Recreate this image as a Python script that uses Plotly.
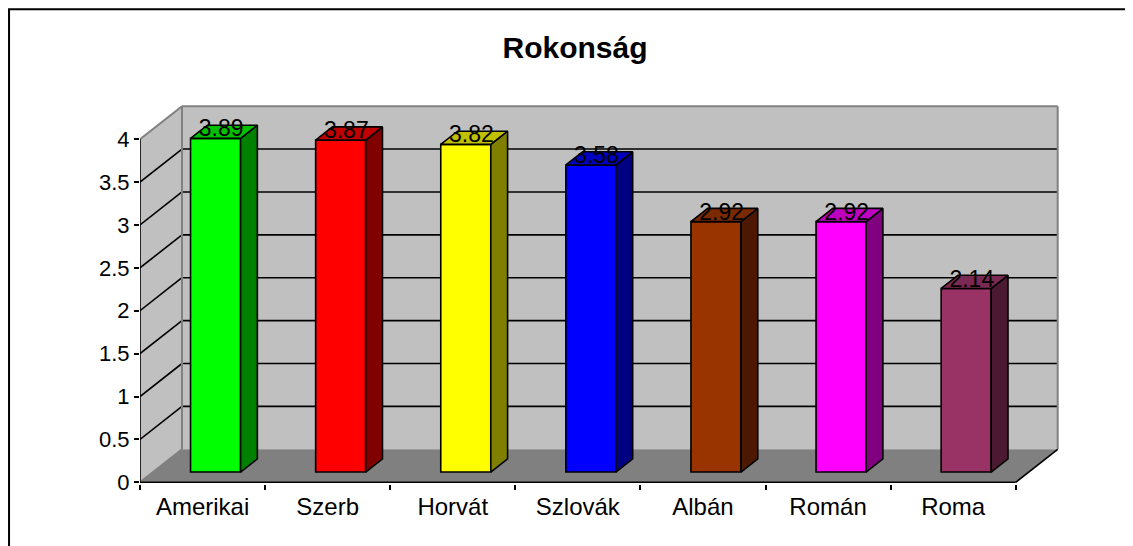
import plotly.graph_objects as go

# ---------------- data ----------------
categories = ["Amerikai", "Szerb", "Horvát", "Szlovák", "Albán", "Román", "Roma"]
values = [3.89, 3.87, 3.82, 3.58, 2.92, 2.92, 2.14]
value_labels = ["3.89", "3.87", "3.82", "3.58", "2.92", "2.92", "2.14"]
front_colors = ["#00FF00", "#FF0000", "#FFFF00", "#0000FF", "#993300", "#FF00FF", "#993366"]
side_colors = ["#008000", "#800000", "#808000", "#000080", "#4C1900", "#800080", "#4C1933"]
top_colors = ["#00C000", "#C00000", "#C0C000", "#0000C0", "#7A2900", "#C000C0", "#7A2952"]
y_ticks = [0, 0.5, 1, 1.5, 2, 2.5, 3, 3.5, 4]
y_tick_text = ["0", "0.5", "1", "1.5", "2", "2.5", "3", "3.5", "4"]
title_text = "Rokonság"

# ---------------- geometry (style) ----------------
FONT = "Liberation Sans, Arial, sans-serif"
OFF = 8              # page body margin
N = len(categories)
YMAX = y_ticks[-1]
SX = 125.14          # px per category unit
SY = 85.75           # px per value unit
DX = 42 / SX         # depth offset (x units)
DY = 33 / SY         # depth offset (y units)
F1, F2 = 0.31, 0.71  # bar front / back depth fractions
BW = 0.4             # bar width (category units)

X_RANGE = [0, 7.45]
Y_RANGE = [-0.02, 4.55]
W_FIG, H_FIG = 1133 - OFF, 546 - OFF
L = 140 - OFF
W = (X_RANGE[1] - X_RANGE[0]) * SX
R = W_FIG - L - W
B_PX = 482 - OFF - Y_RANGE[0] * SY
B = H_FIG - B_PX
H = (Y_RANGE[1] - Y_RANGE[0]) * SY
T = H_FIG - B - H

fig = go.Figure()

shapes = []


def path(pts):
    return "M " + " L ".join(f"{x},{y}" for x, y in pts) + " Z"


# walls and floor
shapes.append(dict(type="path", xref="x", yref="y", layer="below",
                   path=path([(0, 0), (DX, DY), (DX, YMAX + DY), (0, YMAX)]),
                   fillcolor="#C0C0C0", line=dict(width=0)))
shapes.append(dict(type="rect", xref="x", yref="y", layer="below",
                   x0=DX, x1=N + DX, y0=DY, y1=YMAX + DY,
                   fillcolor="#C0C0C0", line=dict(width=0)))
shapes.append(dict(type="path", xref="x", yref="y", layer="below",
                   path=path([(0, 0), (N, 0), (N + DX, DY), (DX, DY)]),
                   fillcolor="#808080", line=dict(width=0)))

# gridlines
for v in y_ticks[1:-1]:
    shapes.append(dict(type="line", xref="x", yref="y", layer="below",
                       x0=DX, x1=N + DX, y0=v + DY, y1=v + DY,
                       line=dict(color="black", width=1.6)))
    shapes.append(dict(type="line", xref="x", yref="y", layer="below",
                       x0=0, x1=DX, y0=v, y1=v + DY,
                       line=dict(color="black", width=1.6)))

# wall edges (gray)
gray_edges = [
    ((DX, YMAX + DY), (N + DX, YMAX + DY)),
    ((0, YMAX), (DX, YMAX + DY)),
    ((DX, DY), (DX, YMAX + DY)),
    ((N + DX, DY), (N + DX, YMAX + DY)),
    ((0, 0), (DX, DY)),
]
for (xa, ya), (xb, yb) in gray_edges:
    shapes.append(dict(type="line", xref="x", yref="y", layer="below",
                       x0=xa, x1=xb, y0=ya, y1=yb,
                       line=dict(color="#808080", width=2)))

# black axis edges
black_edges = [
    ((0, 0), (N, 0)),
    ((N, 0), (N + DX, DY)),
    ((0, 0), (0, YMAX)),
]
for (xa, ya), (xb, yb) in black_edges:
    shapes.append(dict(type="line", xref="x", yref="y", layer="below",
                       x0=xa, x1=xb, y0=ya, y1=yb,
                       line=dict(color="black", width=1.6)))


# outer chart border (paper coords)
def px_to_paper_x(px):
    return (px - L) / W


def px_to_paper_y(py):
    return (B_PX - py) / H


shapes.append(dict(type="rect", xref="paper", yref="paper", layer="above",
                   x0=px_to_paper_x(1), x1=px_to_paper_x(W_FIG + 20),
                   y0=px_to_paper_y(H_FIG + 20), y1=px_to_paper_y(1),
                   line=dict(color="black", width=2), fillcolor="rgba(0,0,0,0)"))

# bar front faces
centers = [i + 0.5 + F1 * DX for i in range(N)]
base = F1 * DY
fig.add_trace(go.Bar(
    x=centers, y=values, base=[base] * N, width=BW,
    marker=dict(color=front_colors, line=dict(color="black", width=1.6)),
    hoverinfo="skip", showlegend=False,
))

ddx = (F2 - F1) * DX
ddy = (F2 - F1) * DY
for i, v in enumerate(values):
    x0 = centers[i] - BW / 2
    x1 = centers[i] + BW / 2
    yt = base + v
    # side face
    fig.add_trace(go.Scatter(
        x=[x1, x1 + ddx, x1 + ddx, x1, x1],
        y=[base, base + ddy, yt + ddy, yt, base],
        mode="lines", fill="toself", fillcolor=side_colors[i],
        line=dict(color="black", width=1.6), hoverinfo="skip", showlegend=False,
    ))
    # top face
    fig.add_trace(go.Scatter(
        x=[x0, x1, x1 + ddx, x0 + ddx, x0],
        y=[yt, yt, yt + ddy, yt + ddy, yt],
        mode="lines", fill="toself", fillcolor=top_colors[i],
        line=dict(color="black", width=1.6), hoverinfo="skip", showlegend=False,
    ))

# value labels
fig.add_trace(go.Scatter(
    x=[c + 0.045 for c in centers],
    y=[base + v + 0.09 for v in values],
    mode="text", text=value_labels, textposition="middle center",
    textfont=dict(family=FONT, size=23, color="black"),
    cliponaxis=False, hoverinfo="skip", showlegend=False,
))

fig.update_layout(
    width=W_FIG, height=H_FIG,
    margin=dict(l=L, r=R, t=T, b=B, pad=0),
    paper_bgcolor="white", plot_bgcolor="white",
    showlegend=False,
    shapes=shapes,
    title=dict(text="<b>" + title_text + "</b>", x=(575 - OFF) / W_FIG, xref="container",
               xanchor="center", y=1 - (47 - OFF) / H_FIG, yref="container", yanchor="middle",
               font=dict(family=FONT, size=30, color="black")),
    xaxis=dict(range=X_RANGE, tickvals=[i + 0.5 for i in range(N)], ticktext=categories,
               ticks="", showgrid=False, zeroline=False, showline=False,
               ticklabelstandoff=6,
               tickfont=dict(family=FONT, size=24, color="black"),
               minor=dict(tickvals=list(range(N + 1)), ticks="outside", ticklen=5,
                          tickcolor="black", tickwidth=1.6, showgrid=False)),
    yaxis=dict(range=Y_RANGE, tickvals=y_ticks, ticktext=y_tick_text,
               ticks="outside", ticklen=5, tickcolor="black", tickwidth=1.6,
               showgrid=False, zeroline=False, showline=False,
               tickfont=dict(family=FONT, size=22, color="black")),
)

fig.write_html("out.html")
